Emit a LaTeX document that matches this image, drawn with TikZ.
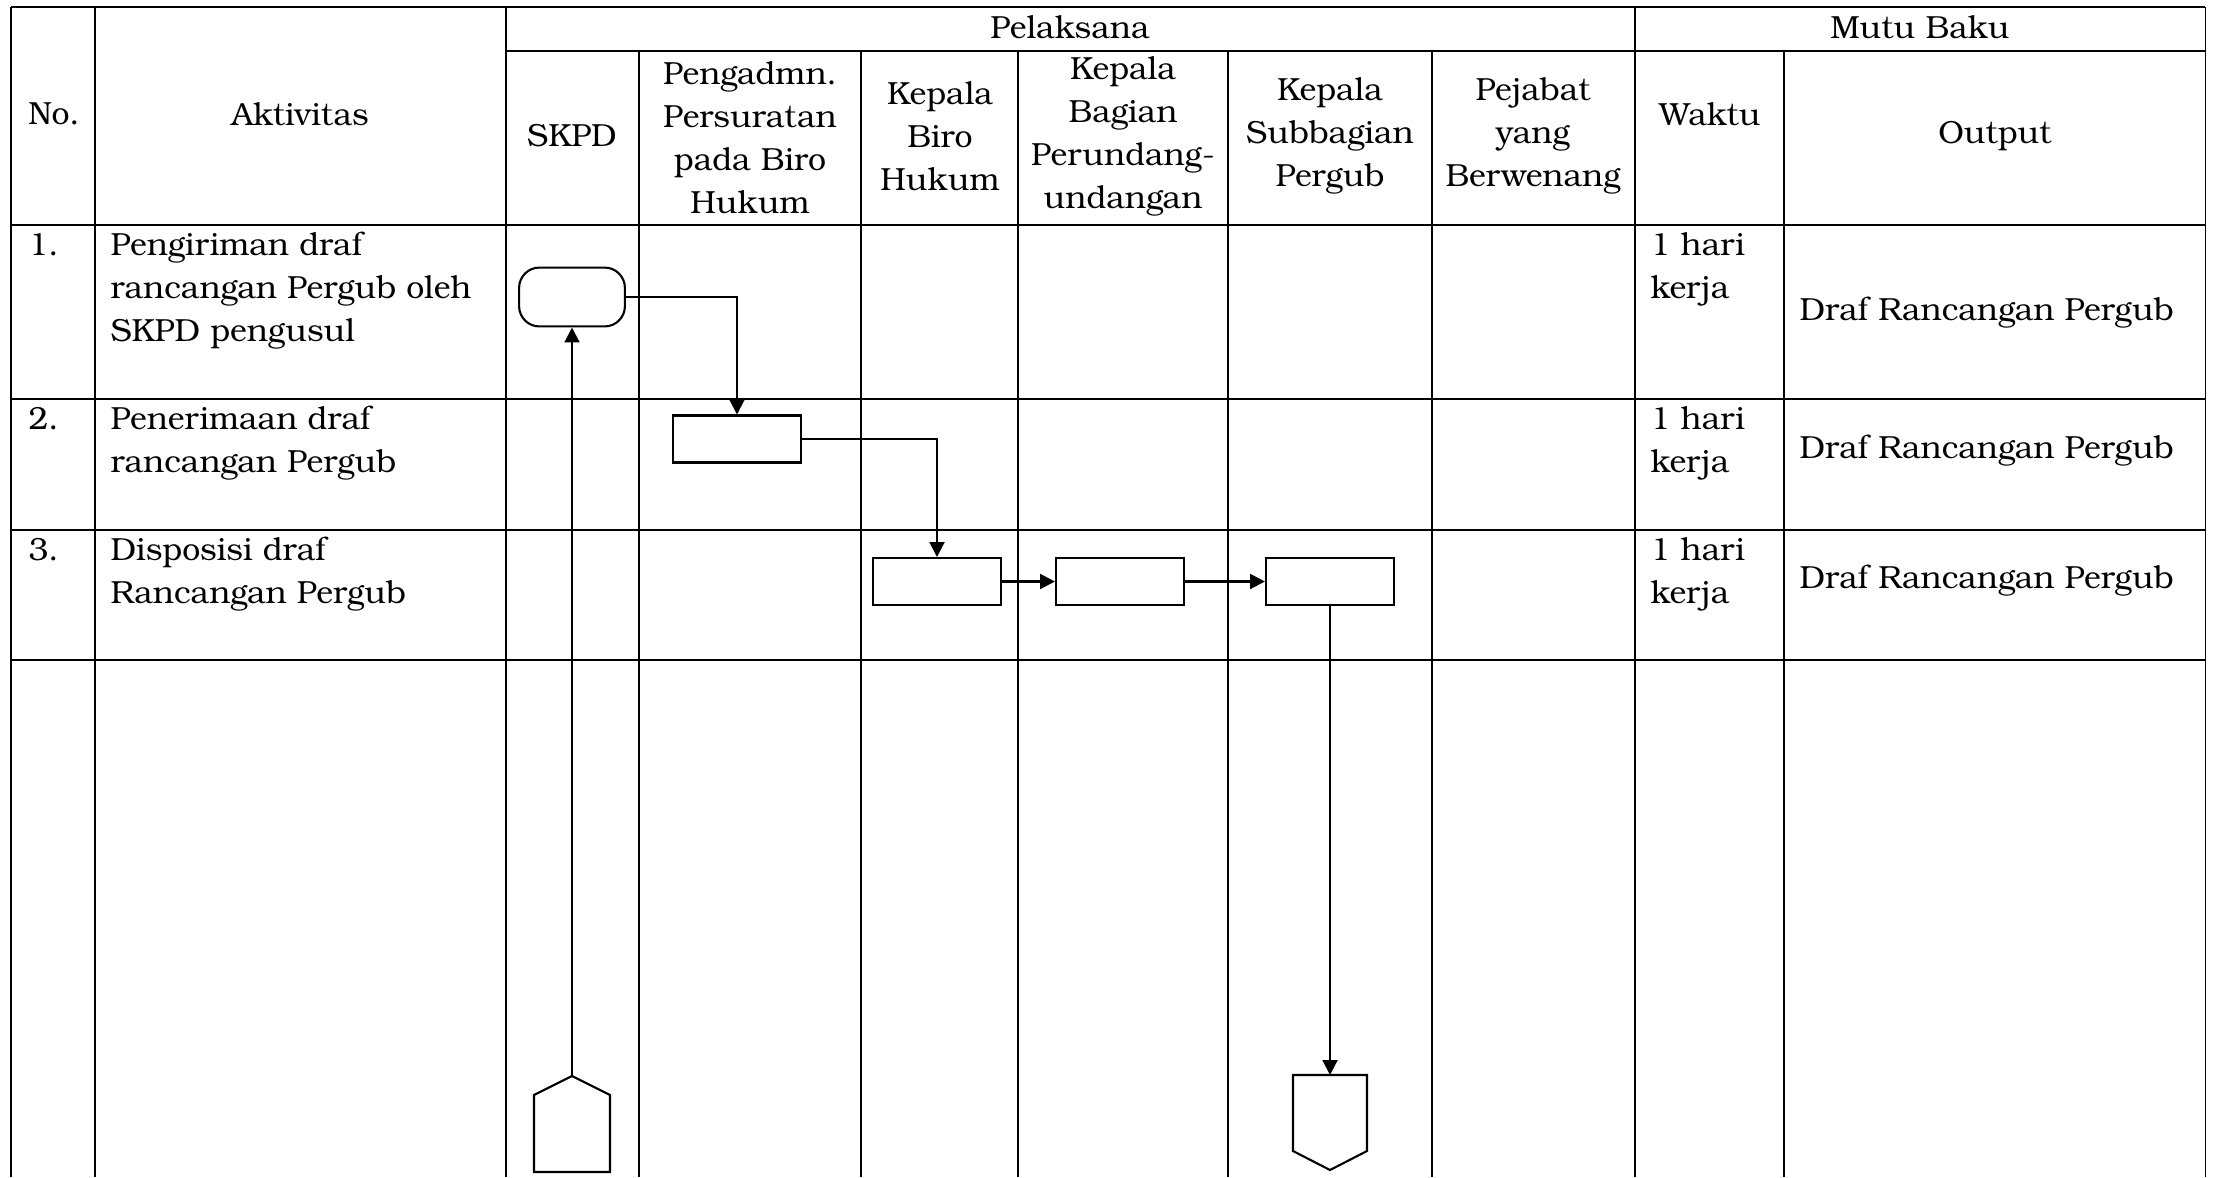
\documentclass[tikz,border=0pt]{standalone}
\usepackage{fontspec}
\setmainfont{texgyrebonum-regular.otf}
\usetikzlibrary{arrows.meta}
\begin{document}
\begin{tikzpicture}[x=0.3345pt,y=-0.3345pt,
  grid/.style={line width=0.35pt},
  flow/.style={line width=0.7pt},
  arr/.style={flow,-{Triangle[length=5pt,width=5pt]}},
  head/.style={inner sep=0pt,align=center,font=\fontsize{10.7pt}{14.4pt}\selectfont},
  cell/.style={inner sep=0pt,anchor=base west,font=\fontsize{10.7pt}{14.4pt}\selectfont},
  procbox/.style={draw,flow,fill=white,minimum width=42.8pt,minimum height=15.7pt,inner sep=0pt},
  termbox/.style={draw,flow,fill=white,minimum width=35.4pt,minimum height=19.7pt,inner sep=0pt,rounded corners=6.8pt},
]
\useasboundingbox (0,0) rectangle (2216,1177);

% table rules
\draw[grid] (11,7) -- (2205,7);
\draw[grid] (506,51) -- (2205,51);
\foreach \yy in {225,399,530,660} \draw[grid] (11,\yy) -- (2205,\yy);
\foreach \xx in {11,95,506,1635,2205} \draw[grid] (\xx,7) -- (\xx,1177);
\foreach \xx in {639,861,1018,1228,1432,1784} \draw[grid] (\xx,51) -- (\xx,1177);

% header
\node[head] (hNo) at (54,114) {No.};
\node[head] (hAkt) at (300,114) {Aktivitas};
\node[head] (hPel) at (1070,27) {Pelaksana};
\node[head] (hMutu) at (1920,27) {Mutu Baku};
\node[head] (hSkpd) at (572,136) {SKPD};
\node[head] (hPeng) at (750,138) {Pengadmn.\\Persuratan\\pada Biro\\Hukum};
\node[head] (hKbh) at (940,136) {Kepala\\Biro\\Hukum};
\node[head] (hKbp) at (1123,136) {Kepala\\Bagian\\Perundang-\\undangan};
\node[head] (hKsp) at (1330,136) {Kepala\\Subbagian\\Pergub};
\node[head] (hPej) at (1533,136) {Pejabat\\yang\\Berwenang};
\node[head] (hWak) at (1710,114) {Waktu};
\node[head] (hOut) at (1995,136) {Output};

% row 1
\node[cell] (n1) at (28,255) {1.};
\node[cell] (a1a) at (110,255) {Pengiriman draf};
\node[cell] (a1b) at (110,298) {rancangan Pergub oleh};
\node[cell] (a1c) at (110,341) {SKPD pengusul};
\node[cell] (w1a) at (1650,255) {1 hari};
\node[cell] (w1b) at (1650,298) {kerja};
\node[cell] (o1) at (1799,320) {Draf Rancangan Pergub};

% row 2
\node[cell] (n2) at (28,429) {2.};
\node[cell] (a2a) at (110,429) {Penerimaan draf};
\node[cell] (a2b) at (110,472) {rancangan Pergub};
\node[cell] (w2a) at (1650,429) {1 hari};
\node[cell] (w2b) at (1650,472) {kerja};
\node[cell] (o2) at (1799,458) {Draf Rancangan Pergub};

% row 3
\node[cell] (n3) at (28,560) {3.};
\node[cell] (a3a) at (110,560) {Disposisi draf};
\node[cell] (a3b) at (110,603) {Rancangan Pergub};
\node[cell] (w3a) at (1650,560) {1 hari};
\node[cell] (w3b) at (1650,603) {kerja};
\node[cell] (o3) at (1799,588) {Draf Rancangan Pergub};

% flow symbols
\node[termbox] (term) at (572,297) {};
\node[procbox] (box2) at (737,439) {};
\node[procbox] (box3) at (937,581.5) {};
\node[procbox] (box4) at (1120,581.5) {};
\node[procbox] (box5) at (1330,581.5) {};

% off-page connectors
\draw[flow] (534,1172) -- (534,1095) -- (572,1076) -- (610,1095) -- (610,1172) -- cycle;
\coordinate (startTop) at (572,1076);
\draw[flow] (1293,1075) -- (1367,1075) -- (1367,1151) -- (1330,1170) -- (1293,1151) -- cycle;
\coordinate (endTop) at (1330,1075);

% connectors
\draw[arr] (startTop) -- (term.south);
\draw[arr] (term.east) -| (box2.north);
\draw[arr] (box2.east) -| (box3.north);
\draw[arr] (box3) -- (box4);
\draw[arr] (box4) -- (box5);
\draw[arr] (box5.south) -- (endTop);
\end{tikzpicture}
\end{document}
